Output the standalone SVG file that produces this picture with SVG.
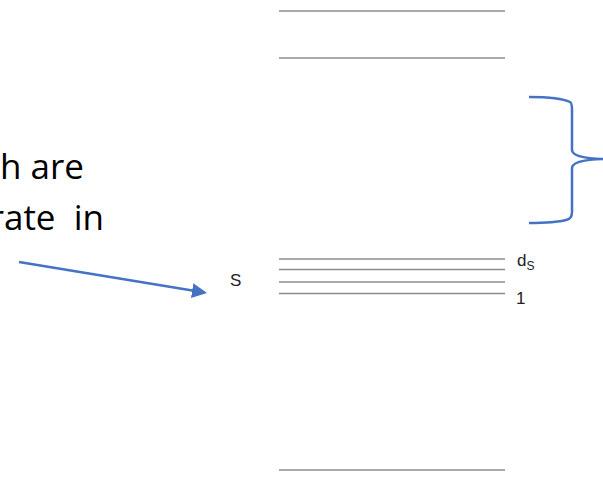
<svg xmlns="http://www.w3.org/2000/svg" width="603" height="477" viewBox="0 0 603 477">
<defs>
<style>
.lvl{stroke:#8c8c8c;stroke-width:1.3;fill:none}
.blue{stroke:#4472c4;stroke-width:2.5;fill:none}
.big{font-family:"Open Sans","Noto Sans",sans-serif;font-size:35px;fill:#000}
.lab{font-family:"Liberation Sans",Arial,sans-serif;font-size:17px;fill:#222}
</style>
<marker id="ah" markerWidth="6" markerHeight="6" refX="5" refY="3" orient="auto" markerUnits="strokeWidth">
<path d="M0,0 L6,3 L0,6 Z" fill="#4472c4"/>
</marker>
</defs>
<rect width="603" height="477" fill="#fff"/>
<g id="levels">
<line class="lvl" x1="279" y1="11" x2="505" y2="11"/>
<line class="lvl" x1="279" y1="58" x2="505" y2="58"/>
<line class="lvl" x1="279" y1="259" x2="505" y2="259"/>
<line class="lvl" x1="279" y1="269.5" x2="505" y2="269.5"/>
<line class="lvl" x1="279" y1="282" x2="505" y2="282"/>
<line class="lvl" x1="279" y1="293.5" x2="505" y2="293.5"/>
<line class="lvl" x1="279" y1="470" x2="505" y2="470"/>
</g>
<g id="labels">
<text class="big" x="84" y="179" text-anchor="end">h are</text>
<text class="big" x="104" y="230" text-anchor="end" xml:space="preserve">rate  in</text>
<text class="lab" x="230" y="286">S</text>
<text class="lab" x="517" y="266">d<tspan font-size="12" dy="4">S</tspan></text>
<text class="lab" x="516" y="304">1</text>
</g>
<g id="brace">
<path class="blue" d="M529,97 Q560,97 570,102 Q572,103 572,110 L572,150 Q572,158 603,159 Q572,160 572,168 L572,212 Q572,219 566,220 Q555,223 529,223"/>
</g>
<g id="connectors">
<line class="blue" x1="19" y1="262" x2="204.5" y2="292.6" marker-end="url(#ah)"/>
</g>
</svg>
